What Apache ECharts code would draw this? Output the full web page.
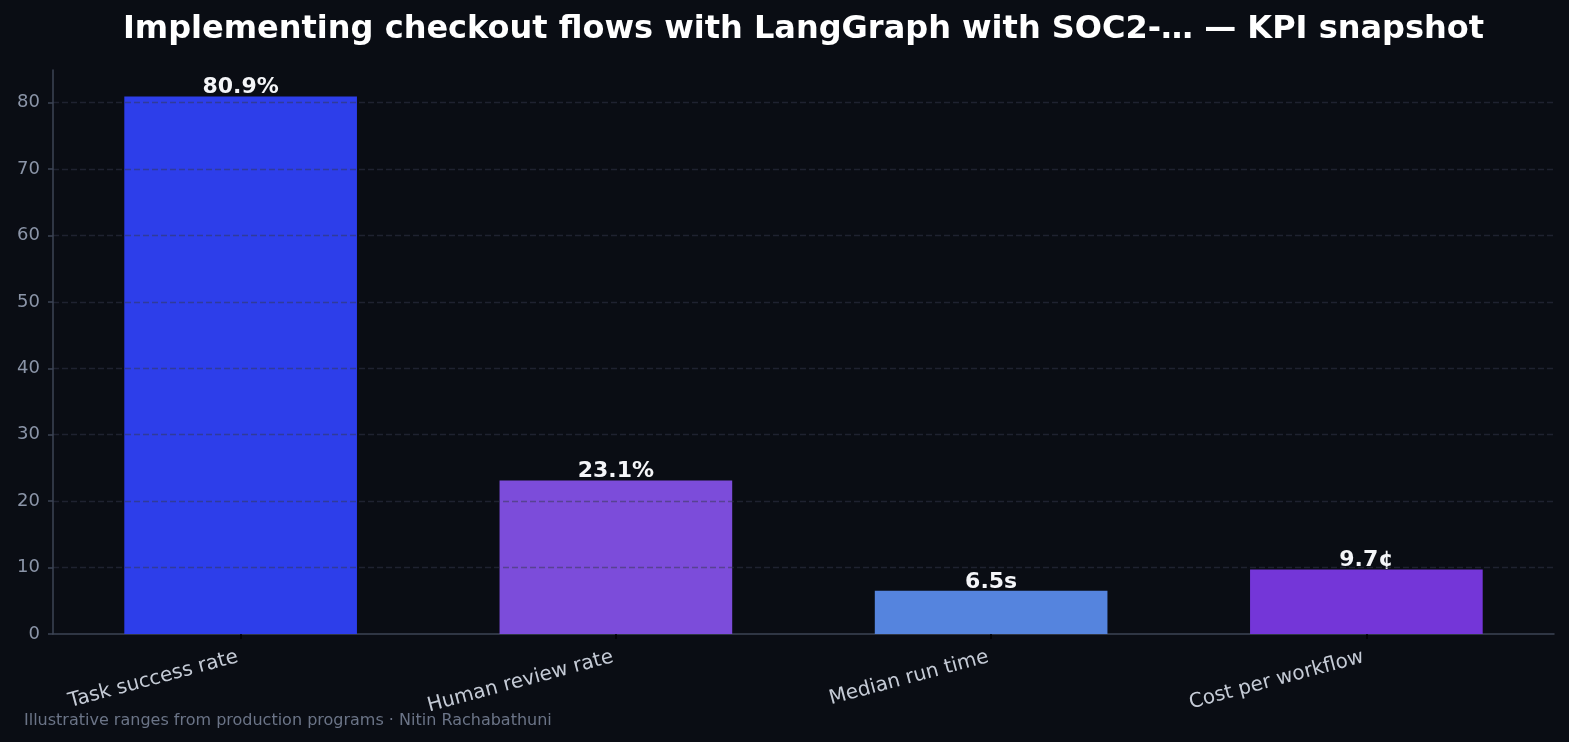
<!DOCTYPE html>
<html>
<head>
<meta charset="utf-8">
<script src="https://cdn.jsdelivr.net/npm/echarts@6/dist/echarts.min.js"></script>
<style>
html,body{margin:0;padding:0;background:#0a0d14;}
#chart{width:1569px;height:742px;}
</style>
</head>
<body>
<div id="chart"></div>
<script>
const categories = ["Task success rate", "Human review rate", "Median run time", "Cost per workflow"];
const values = [80.9, 23.1, 6.5, 9.7];
const valueLabels = ["80.9%", "23.1%", "6.5s", "9.7¢"];
const barColors = ["#2d3eea", "#7c4cda", "#5584de", "#7436d8"];
const yTicks = [0, 10, 20, 30, 40, 50, 60, 70, 80];
const yMax = 84.9;
const titleText = "Implementing checkout flows with LangGraph with SOC2-… — KPI snapshot";
const footText = "Illustrative ranges from production programs · Nitin Rachabathuni";

const FONT = "DejaVu Sans";
const chart = echarts.init(document.getElementById('chart'), null, {renderer: 'canvas'});
chart.setOption({
  backgroundColor: '#0a0d14',
  animation: false,
  graphic: [{
    type: 'text',
    x: 803.5,
    y: 30,
    style: {text: titleText, fill: '#ffffff', font: 'bold 32px "DejaVu Sans"', textAlign: 'center', textVerticalAlign: 'middle'}
  }, {
    type: 'text',
    left: 24,
    top: 713,
    style: {text: footText, fill: '#6b7487', font: '16px "DejaVu Sans"'}
  }],
  grid: {left: 53, right: 15, top: 70, bottom: 108, containLabel: false},
  xAxis: {
    type: 'category',
    data: categories,
    axisLine: {show: true, lineStyle: {color: '#3c4454', width: 1.5}},
    axisTick: {show: true, alignWithLabel: true, length: 5, lineStyle: {color: '#000000', width: 1.5}},
    axisLabel: {rotate: 15, margin: 22, padding: [0, 3, 0, 0], color: '#c5cbd6', fontFamily: FONT, fontSize: 20, interval: 0},
    splitLine: {show: false}
  },
  yAxis: {
    type: 'value',
    min: 0,
    max: yMax,
    interval: 10,
    z: 10,
    axisLine: {show: true, lineStyle: {color: '#3c4454', width: 1.5}},
    axisTick: {show: true, length: 5, lineStyle: {color: '#3c4454', width: 1.5}},
    axisLabel: {
      color: '#8b95a8', fontFamily: FONT, fontSize: 18, margin: 13,
      showMaxLabel: false,
      formatter: function (v) { return yTicks.indexOf(v) >= 0 ? String(v) : ''; }
    },
    splitLine: {show: true, showMaxLine: false, showMinLine: false, lineStyle: {color: 'rgba(52,56,75,0.5)', type: [6, 3], width: 1.3}}
  },
  series: [{
    type: 'bar',
    data: values.map((v, i) => ({value: v, itemStyle: {color: barColors[i]}})),
    barWidth: '62%',
    label: {
      show: true,
      position: 'top',
      distance: -2,
      color: '#f4f5f8',
      fontFamily: FONT,
      fontWeight: 'bold',
      fontSize: 22,
      formatter: function (p) { return valueLabels[p.dataIndex]; }
    }
  }]
});
</script>
</body>
</html>
